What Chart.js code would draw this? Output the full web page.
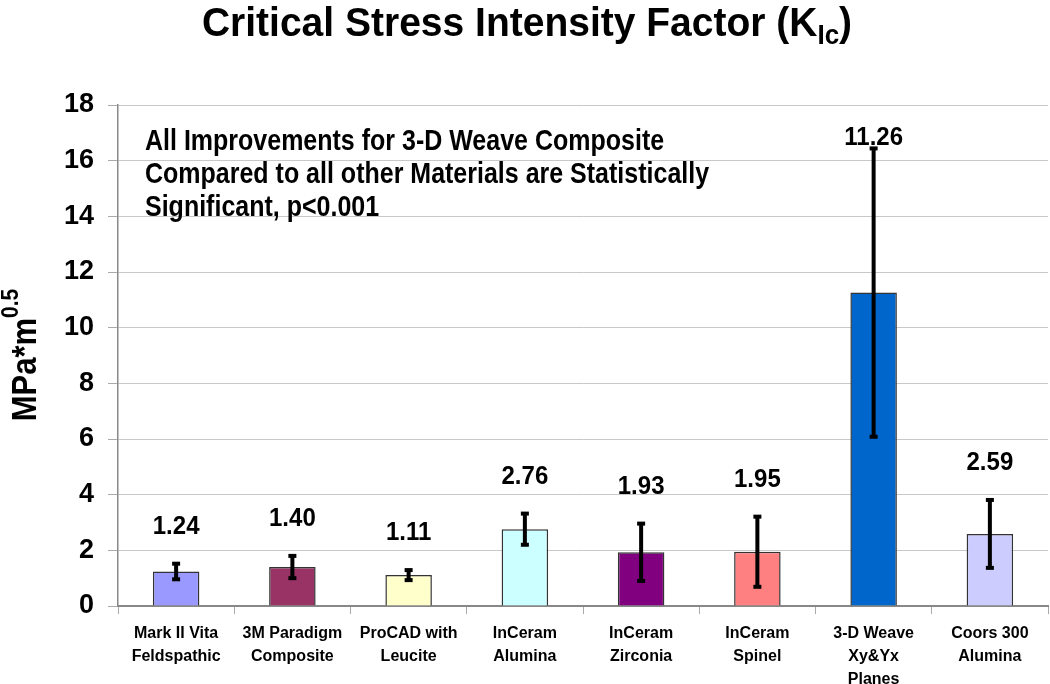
<!DOCTYPE html>
<html>
<head>
<meta charset="utf-8">
<script src="https://cdn.jsdelivr.net/npm/chart.js@4.4.1/dist/chart.umd.min.js"></script>
<style>
  html, body { margin: 0; padding: 0; background: #fff; }
  #wrap { width: 1050px; height: 684px; position: relative; }
</style>
</head>
<body>
<div id="wrap"><canvas id="kicChart" width="1050" height="684"></canvas></div>
<script>
// ==========================
// Data
// ==========================

const materials = [
  ["Mark II Vita", "Feldspathic"],
  ["3M Paradigm", "Composite"],
  ["ProCAD with", "Leucite"],
  ["InCeram", "Alumina"],
  ["InCeram", "Zirconia"],
  ["InCeram", "Spinel"],
  ["3-D Weave", "Xy&Yx", "Planes"],
  ["Coors 300", "Alumina"],
];

const kicValues = [1.24, 1.40, 1.11, 2.76, 1.93, 1.95, 11.26, 2.59];
const kicErrors = [0.28, 0.40, 0.18, 0.56, 1.03, 1.26, 5.18, 1.22];

const barColors = [
  "#9999FF",
  "#993366",
  "#FFFFCC",
  "#CCFFFF",
  "#800080",
  "#FF8080",
  "#0066CC",
  "#CCCCFF",
];

const noteLines = [
  "All Improvements for 3-D Weave Composite",
  "Compared to all other Materials are Statistically",
  "Significant, p<0.001",
];

const yMin = 0;
const yMax = 18;
const yStep = 2;

// ==========================
// Plugin: title, axis title, error bars, labels
// ==========================

const SANS = "'Liberation Sans', Arial, Helvetica, sans-serif";

// text drawn a little taller than wide, like the original picture
function tallText(ctx, text, x, y, stretch) {
  ctx.save();
  ctx.translate(x, y);
  ctx.scale(1, stretch);
  ctx.fillText(text, 0, 0);
  ctx.restore();
}

const extrasPlugin = {
  id: "extras",
  afterDatasetsDraw(chart) {
    const ctx = chart.ctx;
    const y = chart.scales.y;
    const meta = chart.getDatasetMeta(0);

    // error bars
    ctx.save();
    ctx.strokeStyle = "#000";
    ctx.fillStyle = "#000";
    meta.data.forEach((bar, i) => {
      const top = y.getPixelForValue(kicValues[i] + kicErrors[i]);
      const bot = y.getPixelForValue(kicValues[i] - kicErrors[i]);
      ctx.lineWidth = 4;
      ctx.beginPath();
      ctx.moveTo(bar.x, top);
      ctx.lineTo(bar.x, bot);
      ctx.stroke();
      ctx.fillRect(bar.x - 4, top - 2, 8, 4);
      ctx.fillRect(bar.x - 4, bot - 2, 8, 4);
    });

    // value labels
    ctx.font = "bold 24px " + SANS;
    ctx.textAlign = "center";
    ctx.textBaseline = "alphabetic";
    meta.data.forEach((bar, i) => {
      const top = y.getPixelForValue(kicValues[i] + kicErrors[i]);
      let ly = top - 30;
      if (ly < 145) ly = 145;
      tallText(ctx, kicValues[i].toFixed(2), bar.x, ly, 1.1);
    });

    // note text
    ctx.font = "bold 25px " + SANS;
    ctx.textAlign = "left";
    noteLines.forEach((line, i) => {
      tallText(ctx, line, 145, 150 + i * 33, 1.15);
    });
    ctx.restore();
  },
  afterDraw(chart) {
    const ctx = chart.ctx;
    ctx.save();
    ctx.fillStyle = "#000";
    ctx.textBaseline = "alphabetic";

    // title with subscript
    const mainFont = "bold 39px " + SANS;
    const subFont = "bold 26px " + SANS;
    ctx.font = mainFont;
    const part1 = "Critical Stress Intensity Factor (K";
    const w1 = ctx.measureText(part1).width;
    const w3 = ctx.measureText(")").width;
    ctx.font = subFont;
    const w2 = ctx.measureText("Ic").width;
    const total = w1 + w2 + w3;
    let x0 = 527 - total / 2;
    const base = 36;
    ctx.textAlign = "left";
    ctx.font = mainFont;
    tallText(ctx, part1, x0, base, 1.05);
    ctx.font = subFont;
    tallText(ctx, "Ic", x0 + w1, base + 8, 1.05);
    ctx.font = mainFont;
    tallText(ctx, ")", x0 + w1 + w2, base, 1.05);

    // y axis title with superscript
    ctx.translate(36, 355);
    ctx.rotate(-Math.PI / 2);
    ctx.scale(1, 1.15);
    const yFont = "bold 31px " + SANS;
    const supFont = "bold 21px " + SANS;
    ctx.font = yFont;
    const a = "MPa*m";
    const wa = ctx.measureText(a).width;
    ctx.font = supFont;
    const wb = ctx.measureText("0.5").width;
    const sx = -(wa + wb) / 2;
    ctx.font = yFont;
    ctx.fillText(a, sx, 0);
    ctx.font = supFont;
    ctx.fillText("0.5", sx + wa, -16);
    ctx.restore();
  },
};

// ==========================
// Chart
// ==========================

new Chart(document.getElementById("kicChart"), {
  type: "bar",

  data: {
    labels: materials,
    datasets: [
      {
        data: kicValues,
        backgroundColor: barColors,
        borderColor: "#333",
        borderWidth: 1.5,
        categoryPercentage: 1,
        barPercentage: 0.4,
      },
    ],
  },

  options: {
    responsive: false,
    animation: false,
    layout: {
      padding: { top: 105, right: 2, left: 0, bottom: 0 },
    },
    plugins: {
      legend: { display: false },
      tooltip: { enabled: false },
    },
    scales: {
      y: {
        min: yMin,
        max: yMax,
        ticks: {
          stepSize: yStep,
          color: "#000",
          padding: 14,
          font: { family: SANS, size: 27, weight: "bold" },
        },
        grid: {
          color: "#c8c8c8",
          tickColor: "#aaa",
          tickLength: 10,
        },
        border: { color: "#888", width: 1.5 },
        afterFit(scale) {
          scale.width = 118;
        },
      },
      x: {
        ticks: {
          color: "#000",
          padding: 8,
          maxRotation: 0,
          autoSkip: false,
          font: {
            family: "'Liberation Sans Narrow', 'Arial Narrow', " + SANS,
            size: 16,
            weight: "bold",
            lineHeight: 1.45,
          },
        },
        grid: {
          drawOnChartArea: false,
          tickColor: "#aaa",
          tickLength: 8,
        },
        border: { color: "#888", width: 2 },
        afterFit(scale) {
          scale.height = 78;
        },
      },
    },
  },

  plugins: [extrasPlugin],
});
</script>
</body>
</html>
